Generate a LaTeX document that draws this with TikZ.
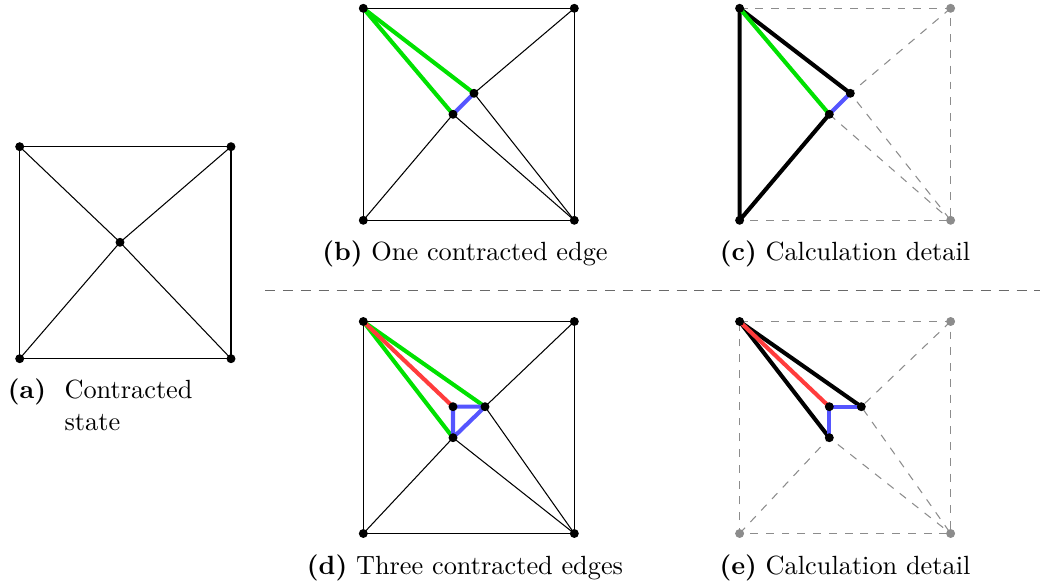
\documentclass[tikz,border=0pt]{standalone}
\usetikzlibrary{backgrounds}
\definecolor{cgreen}{RGB}{0,225,0}
\definecolor{cblue}{RGB}{85,85,255}
\definecolor{cred}{RGB}{255,60,60}
\definecolor{cgray}{RGB}{140,140,140}
\definecolor{csep}{RGB}{105,105,105}
\tikzset{
  vtx/.style={circle,fill=black,inner sep=0pt,minimum size=3.4pt},
  gvtx/.style={circle,fill=cgray,inner sep=0pt,minimum size=3.4pt},
  plainedge/.style={line width=0.4pt,black},
  gedge/.style={line width=0.4pt,cgray,dashed},
  thk/.style={line width=1.55pt,line join=round},
  gthk/.style={thk,cgreen},
  bthk/.style={thk,cblue},
  rthk/.style={thk,cred},
  kthk/.style={thk,black},
  captext/.style={anchor=base,inner sep=0pt,font=\normalsize},
  captextl/.style={anchor=base west,inner sep=0pt,font=\normalsize},
  sepline/.style={line width=0.75pt,csep,dash pattern=on 3.8pt off 3pt}
}
\begin{document}
\begin{tikzpicture}[x=0.38pt,y=-0.38pt]
\useasboundingbox (0,0) rectangle (1044,585);
% ---------- (a)
\node[vtx] (a1) at (19.7,146.7) {};
\node[vtx] (a2) at (231,146.7) {};
\node[vtx] (a3) at (19.7,358.7) {};
\node[vtx] (a4) at (231,358.7) {};
\node[vtx] (a5) at (120,242.3) {};
% ---------- (b)
\node[vtx] (b1) at (363.3,8.3) {};
\node[vtx] (b2) at (574.3,8.3) {};
\node[vtx] (b3) at (363.3,220.3) {};
\node[vtx] (b4) at (574.3,220.3) {};
\node[vtx] (bu) at (474,93.3) {};
\node[vtx] (bl) at (453,114.3) {};
% ---------- (c)
\node[vtx] (c1) at (739.6,8.3) {};
\node[gvtx] (c2) at (950.6,8.3) {};
\node[vtx] (c3) at (739.6,220.3) {};
\node[gvtx] (c4) at (950.6,220.3) {};
\node[vtx] (cu) at (850.3,93.3) {};
\node[vtx] (cl) at (829.3,114.3) {};
% ---------- (d)
\node[vtx] (d1) at (363.3,321.5) {};
\node[vtx] (d2) at (574.3,321.5) {};
\node[vtx] (d3) at (363.3,533.5) {};
\node[vtx] (d4) at (574.3,533.5) {};
\node[vtx] (dm) at (453,406.7) {};
\node[vtx] (dr) at (485,406.7) {};
\node[vtx] (dl) at (453,437.7) {};
% ---------- (e)
\node[vtx] (e1) at (739.6,321.5) {};
\node[gvtx] (e2) at (950.6,321.5) {};
\node[gvtx] (e3) at (739.6,533.5) {};
\node[gvtx] (e4) at (950.6,533.5) {};
\node[vtx] (em) at (829.3,406.7) {};
\node[vtx] (er) at (861.3,406.7) {};
\node[vtx] (el) at (829.3,437.7) {};

\begin{scope}[on background layer]
% (a)
\draw[plainedge] (a1.center) -- (a2.center) -- (a4.center) -- (a3.center) -- cycle;
\draw[plainedge] (a1.center) -- (a5.center) -- (a4.center);
\draw[plainedge] (a2.center) -- (a5.center) -- (a3.center);
% (b)
\draw[plainedge] (b1.center) -- (b2.center) -- (b4.center) -- (b3.center) -- cycle;
\draw[plainedge] (b2.center) -- (bu.center) -- (b4.center);
\draw[plainedge] (b3.center) -- (bl.center) -- (b4.center);
\draw[gthk] (b1.center) -- (bu.center);
\draw[gthk] (b1.center) -- (bl.center);
\draw[bthk] (bu.center) -- (bl.center);
% (c)
\draw[gedge] (c1.center) -- (c2.center) -- (c4.center) -- (c3.center);
\draw[gedge] (c2.center) -- (cu.center) -- (c4.center);
\draw[gedge] (cl.center) -- (c4.center);
\draw[kthk] (cu.center) -- (c1.center) -- (c3.center) -- (cl.center);
\draw[gthk] (c1.center) -- (cl.center);
\draw[bthk] (cu.center) -- (cl.center);
% (d)
\draw[plainedge] (d1.center) -- (d2.center) -- (d4.center) -- (d3.center) -- cycle;
\draw[plainedge] (d2.center) -- (dr.center) -- (d4.center);
\draw[plainedge] (d3.center) -- (dl.center) -- (d4.center);
\draw[gthk] (d1.center) -- (dr.center);
\draw[gthk] (d1.center) -- (dl.center);
\draw[rthk] (d1.center) -- (dm.center);
\draw[bthk] (dm.center) -- (dr.center) -- (dl.center) -- cycle;
% (e)
\draw[gedge] (e1.center) -- (e2.center) -- (e4.center) -- (e3.center) -- cycle;
\draw[gedge] (e2.center) -- (er.center) -- (e4.center);
\draw[gedge] (e3.center) -- (el.center) -- (e4.center);
\draw[kthk] (er.center) -- (e1.center) -- (el.center);
\draw[rthk] (e1.center) -- (em.center);
\draw[bthk] (er.center) -- (em.center) -- (el.center);
\end{scope}

% captions
\node[captextl] (capa1) at (7.3,398) {\textbf{(a)}};
\node[captextl] (capa2) at (64,398) {Contracted};
\node[captextl] (capa3) at (64,430) {state};
\node[captext] (capb) at (465,261) {\textbf{(b)} One contracted edge};
\node[captext] (capc) at (845,261) {\textbf{(c)} Calculation detail};
\node[captext] (capd) at (465,574) {\textbf{(d)} Three contracted edges};
\node[captext] (cape) at (845,574) {\textbf{(e)} Calculation detail};

% separator
\coordinate (sepL) at (265,290.5);
\coordinate (sepR) at (1040,290.5);
\draw[sepline] (sepL) -- (sepR);
\end{tikzpicture}
\end{document}
